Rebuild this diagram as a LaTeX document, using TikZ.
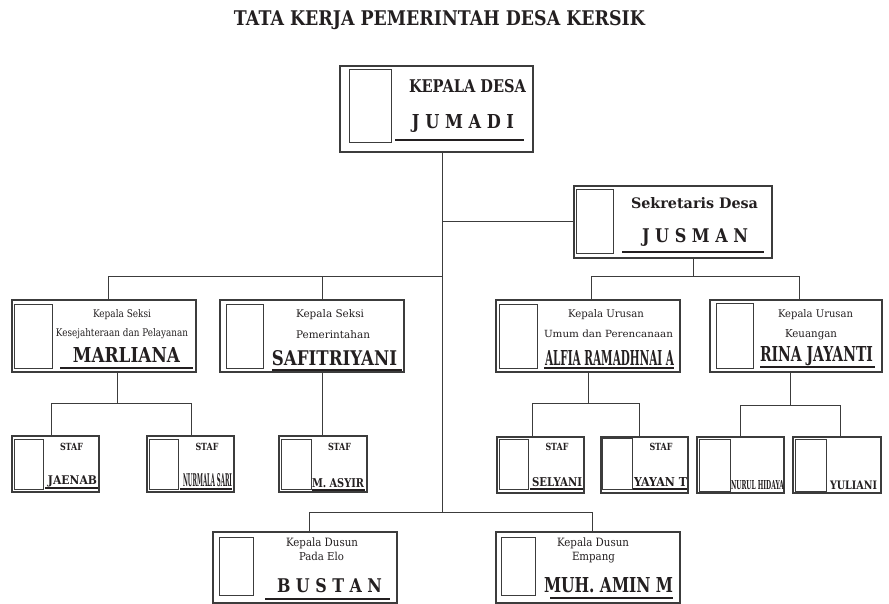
\documentclass[tikz,border=0pt]{standalone}
\usepackage{fontspec}
\setmainfont{DejaVu Serif}
\usepackage{graphicx}
\usetikzlibrary{positioning}
\definecolor{ink}{RGB}{35,31,32}
\definecolor{wire}{RGB}{60,60,60}
\newcommand{\fitw}[2]{\resizebox{#1pt}{!}{#2}}
\newcommand{\fitwh}[3]{\resizebox{#1pt}{#2pt}{#3}}

\begin{document}
\begin{tikzpicture}[x=1pt, y=-1pt,
    unit/.style={draw=wire, line width=1.3pt, inner sep=0pt, minimum width=184pt, minimum height=72pt},
    staff/.style={unit, minimum width=87pt, minimum height=56pt},
    photo/.style={draw=wire, line width=1pt, inner sep=0pt, minimum width=37pt, minimum height=64pt},
    sphoto/.style={photo, minimum width=30pt, minimum height=50pt},
    txt/.style={anchor=base, inner sep=0pt, text=ink},
    conn/.style={draw=wire, line width=1pt},
    uline/.style={draw=ink, line width=1.3pt}]

    \fill[white] (0,0) rectangle (889,604);
    \useasboundingbox (0,0) rectangle (889,604);

    \node[txt] (title) at (439.5,25.5) {\fitwh{411}{15}{\bfseries TATA KERJA PEMERINTAH DESA KERSIK}};

    % kepala desa dan sekretaris
    \node[unit, minimum width=193pt, minimum height=86pt] (kades) at (436.5,109) {};
    \node[photo, minimum width=42pt, minimum height=73pt] (kadesP) at (370,106.5) {};
    \node[txt] (kadesT) at (467.5,93) {\fitwh{117}{13}{\bfseries KEPALA DESA}};
    \node[txt] (kadesN) at (463,129) {\fitwh{102}{14}{\bfseries J U M A D I}};
    \draw[uline] (395,140) -- (524,140);

    \node[unit, minimum width=198pt] (sekdes) at (673,222) {};
    \node[photo] (sekdesP) at (594.5,222) {};
    \node[txt] (sekdesT) at (694.5,208) {\fitwh{127}{11}{\bfseries Sekretaris Desa}};
    \node[txt] (sekdesN) at (695,242) {\fitwh{106}{14}{\bfseries J U S M A N}};
    \draw[uline] (622,252) -- (764,252);

    % kepala seksi dan kepala urusan
    \node[unit] (marliana) at (104,336) {};
    \node[photo, minimum width=38pt] (marlianaP) at (33,336) {};
    \node[txt] (marlianaT) at (122,317) {\fitwh{58}{8}{Kepala Seksi}};
    \node[txt] (marlianaU) at (122,336) {\fitwh{132}{8}{Kesejahteraan dan Pelayanan}};
    \node[txt] (marlianaN) at (126.5,362) {\fitwh{107}{15}{\bfseries MARLIANA}};
    \draw[uline] (60,368) -- (193,368);

    \node[unit] (safitri) at (312,336) {};
    \node[photo] (safitriP) at (244.5,336) {};
    \node[txt] (safitriT) at (330,317) {\fitwh{68}{8}{Kepala Seksi}};
    \node[txt] (safitriU) at (333,338) {\fitwh{74}{8}{Pemerintahan}};
    \node[txt] (safitriN) at (334.5,365) {\fitwh{125}{15}{\bfseries SAFITRIYANI}};
    \draw[uline] (272,370) -- (402,370);

    \node[unit] (alfia) at (588,336) {};
    \node[photo, minimum width=38pt] (alfiaP) at (518,336) {};
    \node[txt] (alfiaT) at (606,317) {\fitwh{76}{8}{Kepala Urusan}};
    \node[txt] (alfiaU) at (608.5,337) {\fitwh{129}{7.5}{Umum dan Perencanaan}};
    \node[txt] (alfiaN) at (609.5,365) {\fitwh{129}{15}{\bfseries ALFIA RAMADHNAI A}};
    \draw[uline] (544,368) -- (674,368);

    \node[unit, minimum width=172pt] (rina) at (796,336) {};
    \node[photo, minimum height=65pt] (rinaP) at (734.5,335.5) {};
    \node[txt] (rinaT) at (815.5,317) {\fitwh{75}{8}{Kepala Urusan}};
    \node[txt] (rinaU) at (811,337) {\fitwh{52}{8}{Keuangan}};
    \node[txt] (rinaN) at (816.5,361) {\fitwh{113}{15}{\bfseries RINA JAYANTI}};
    \draw[uline] (760,367) -- (875,367);

    % staf
    \node[staff] (jaenab) at (55.5,464) {};
    \node[sphoto, minimum width=29pt] (jaenabP) at (28.5,464) {};
    \node[txt] (jaenabT) at (71.5,450) {\fitwh{23}{7.3}{\bfseries STAF}};
    \node[txt] (jaenabN) at (72.5,484) {\fitwh{49}{8.7}{\bfseries JAENAB}};
    \draw[uline] (45,488) -- (98,488);

    \node[staff] (nurmala) at (190.5,464) {};
    \node[sphoto, minimum width=29pt] (nurmalaP) at (163.5,464) {};
    \node[txt] (nurmalaT) at (207,450) {\fitwh{23}{7.3}{\bfseries STAF}};
    \node[txt] (nurmalaN) at (207.5,486) {\fitwh{49}{13}{\bfseries NURMALA SARI}};
    \draw[uline] (180,489) -- (232,489);

    \node[staff, minimum width=88pt] (asyir) at (323,464) {};
    \node[sphoto] (asyirP) at (296,464) {};
    \node[txt] (asyirT) at (339.5,450) {\fitwh{23}{7.3}{\bfseries STAF}};
    \node[txt] (asyirN) at (338,487) {\fitwh{52}{9}{\bfseries M. ASYIR}};
    \draw[uline] (312,490) -- (365,490);

    \node[staff] (selyani) at (540.5,465) {};
    \node[sphoto, minimum width=29pt] (selyaniP) at (513.5,464) {};
    \node[txt] (selyaniT) at (557,450) {\fitwh{23}{7.3}{\bfseries STAF}};
    \node[txt] (selyaniN) at (557,486) {\fitwh{50}{9}{\bfseries SELYANI}};
    \draw[uline] (530,489) -- (583,489);

    \node[staff] (yayan) at (644.5,465) {};
    \node[sphoto, minimum height=51pt] (yayanP) at (617,463.5) {};
    \node[txt] (yayanT) at (661,450) {\fitwh{23}{7.3}{\bfseries STAF}};
    \node[txt] (yayanN) at (660.5,486) {\fitwh{53}{9}{\bfseries YAYAN T}};
    \draw[uline] (633,489) -- (687,489);

    \node[staff] (nurul) at (740.5,465) {};
    \node[sphoto, minimum width=31pt, minimum height=52pt] (nurulP) at (714.5,465) {};
    \node[txt] (nurulN) at (757.5,489) {\fitwh{53}{9}{\bfseries NURUL HIDAYA}};

    \node[staff, minimum width=88pt] (yuliani) at (837,465) {};
    \node[sphoto, minimum width=31pt, minimum height=52pt] (yulianiP) at (810.5,465) {};
    \node[txt] (yulianiN) at (853.5,489) {\fitwh{47}{8.5}{\bfseries YULIANI}};

    % kepala dusun
    \node[unit, minimum height=71pt] (bustan) at (305,567.5) {};
    \node[photo, minimum width=34pt, minimum height=58pt] (bustanP) at (236,566) {};
    \node[txt] (bustanT) at (322,546) {\fitwh{72}{8.7}{Kepala Dusun}};
    \node[txt] (bustanU) at (321.5,560) {\fitwh{45}{8.3}{Pada Elo}};
    \node[txt] (bustanN) at (329.5,592) {\fitwh{105}{14}{\bfseries B U S T A N}};
    \draw[uline] (265,599) -- (390,599);

    \node[unit, minimum height=71pt] (amin) at (588,567.5) {};
    \node[photo, minimum width=34pt, minimum height=58pt] (aminP) at (518,566) {};
    \node[txt] (aminT) at (593,546) {\fitwh{72}{8.7}{Kepala Dusun}};
    \node[txt] (aminU) at (593.5,560) {\fitwh{43}{8.3}{Empang}};
    \node[txt] (aminN) at (608.5,592) {\fitwh{129}{15}{\bfseries MUH. AMIN M}};
    \draw[uline] (550,598) -- (673,598);

    % garis
    \coordinate (trunk) at (442,512);
    \coordinate (lbar) at (108,276);
    \coordinate (ls) at (322,276);
    \coordinate (rbar) at (693,276);
    \coordinate (ra) at (591,276);
    \coordinate (rr) at (799,276);
    \coordinate (mb) at (117,403);
    \coordinate (mj) at (51,403);
    \coordinate (mn) at (191,403);
    \coordinate (ab) at (588,403);
    \coordinate (as) at (532,403);
    \coordinate (ay) at (639,403);
    \coordinate (rb) at (790,405);
    \coordinate (rn) at (740,405);
    \coordinate (ry) at (840,405);
    \coordinate (db) at (309,512);
    \coordinate (dm) at (592,512);

    \draw[conn] (trunk |- kades.south) -- (trunk);
    \draw[conn] (trunk |- sekdes.west) -- (sekdes.west);
    \draw[conn] (trunk |- lbar) -- (lbar) -- (lbar |- marliana.north);
    \draw[conn] (ls) -- (ls |- safitri.north);
    \draw[conn] (rbar |- sekdes.south) -- (rbar);
    \draw[conn] (ra |- alfia.north) -- (ra) -- (rr) -- (rr |- rina.north);
    \draw[conn] (mb |- marliana.south) -- (mb);
    \draw[conn] (mj |- jaenab.north) -- (mj) -- (mn) -- (mn |- nurmala.north);
    \draw[conn] (ls |- safitri.south) -- (ls |- asyir.north);
    \draw[conn] (ab |- alfia.south) -- (ab);
    \draw[conn] (as |- selyani.north) -- (as) -- (ay) -- (ay |- yayan.north);
    \draw[conn] (rb |- rina.south) -- (rb);
    \draw[conn] (rn |- nurul.north) -- (rn) -- (ry) -- (ry |- yuliani.north);
    \draw[conn] (db |- bustan.north) -- (db) -- (dm) -- (dm |- amin.north);
\end{tikzpicture}
\end{document}
